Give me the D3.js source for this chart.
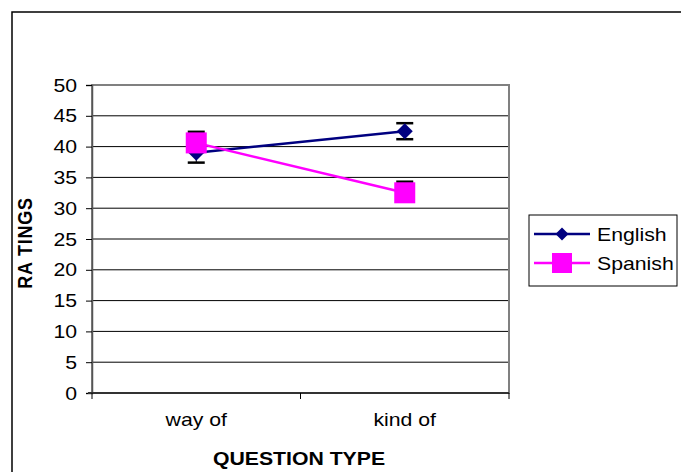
<!DOCTYPE html>
<html><head><meta charset="utf-8">
<script src="https://cdn.jsdelivr.net/npm/d3@7"></script>
<style>body{margin:0;background:#fff}svg{display:block;font-family:"Liberation Sans",Arial,sans-serif}</style>
</head><body>
<script>
const categories = ["way of", "kind of"];
const english = [39.0, 42.5];
const englishErrUp = [1.6, 1.3];
const englishErrDown = [1.6, 1.3];
const spanish = [40.6, 32.5];
const spanishErrUp = [1.8, 1.8];
const spanishErrDown = [0, 0];
const yTicks = [0,5,10,15,20,25,30,35,40,45,50];

const W = 681, H = 472, SX = 1.18, FS = 18;
const svg = d3.select("body").append("svg").attr("width", W).attr("height", H);

function txt(g, x0, y0, s, anchor, opts = {}) {
  const t = g.append("text")
    .attr("transform", `translate(${x0},${y0}) scale(${SX},1)`)
    .attr("text-anchor", anchor).attr("font-size", opts.size || FS)
    .attr("fill", "#000").text(s);
  if (opts.bold) t.attr("font-weight", "bold");
  return t;
}

// outer frame
svg.append("rect").attr("x", 12).attr("y", 12).attr("width", W).attr("height", H)
  .attr("fill", "none").attr("stroke", "#000").attr("stroke-width", 1.5);

const L = 92, R = 509, T = 85, B = 393;
const y = d3.scaleLinear().domain([0, 50]).range([B, T]);
const x = d3.scaleBand().domain(categories).range([L, R]);
const cx = c => x(c) + x.bandwidth() / 2;

// gridlines
svg.append("g").selectAll("line").data(yTicks.filter(d => d > 0 && d < 50)).join("line")
  .attr("x1", L).attr("x2", R).attr("y1", d => y(d)).attr("y2", d => y(d))
  .attr("stroke", "#000").attr("stroke-width", 1);

// plot area border
svg.append("rect").attr("x", L).attr("y", T).attr("width", R - L).attr("height", B - T)
  .attr("fill", "none").attr("stroke", "#808080").attr("stroke-width", 2);

// y axis
const ya = svg.append("g").attr("transform", `translate(${L},0)`)
  .call(d3.axisLeft(y).tickValues(yTicks).tickSize(6).tickFormat(""));
ya.select(".domain").attr("stroke", "#555").attr("stroke-width", 1.5);
ya.selectAll(".tick line").attr("stroke", "#000");
const yl = svg.append("g");
yTicks.forEach(v => txt(yl, 77, y(v) + 6.5, String(v), "end"));

// x axis
const xa = svg.append("g").attr("transform", `translate(0,${B})`);
xa.append("line").attr("x1", L - 4).attr("x2", R).attr("y1", 0).attr("y2", 0).attr("stroke", "#333").attr("stroke-width", 2);
const xTickPos = [L, ...categories.map(c => x(c) + x.bandwidth())];
xa.selectAll("line.t").data(xTickPos).join("line").attr("class", "t")
  .attr("x1", d => d).attr("x2", d => d).attr("y1", 0).attr("y2", 6).attr("stroke", "#000");
categories.forEach(c => txt(xa, cx(c), 33, c, "middle"));

// axis titles
txt(svg, 299, 465, "QUESTION TYPE", "middle", {bold: true});
svg.append("text").attr("transform", "translate(32,243) rotate(-90) scale(1,1.1)").attr("text-anchor", "middle")
  .attr("font-size", FS).attr("font-weight", "bold").attr("letter-spacing", 0.8).text("RA TINGS");

const line = d3.line().x((d, i) => cx(categories[i])).y(d => y(d));

const series = [
  {name: "English", vals: english, up: englishErrUp, down: englishErrDown, color: "#000080", shape: "diamond"},
  {name: "Spanish", vals: spanish, up: spanishErrUp, down: spanishErrDown, color: "#ff00ff", shape: "square"}
];

function marker(g, shape, color, px, py, small) {
  if (shape === "diamond") {
    const h = small ? 6.5 : 8;
    g.append("path").attr("d", `M${px},${py-h}L${px+h},${py}L${px},${py+h}L${px-h},${py}Z`).attr("fill", color);
  } else {
    const h = small ? 10 : 10.5;
    g.append("rect").attr("x", px - h).attr("y", py - h).attr("width", 2 * h).attr("height", 2 * h).attr("fill", color);
  }
}

// error bars
series.forEach(s => {
  const g = svg.append("g");
  s.vals.forEach((v, i) => {
    const px = cx(categories[i]);
    const ends = [];
    if (s.up[i] > 0) ends.push(y(v + s.up[i]));
    if (s.down[i] > 0) ends.push(y(v - s.down[i]));
    ends.forEach(yy => {
      g.append("line").attr("x1", px).attr("x2", px).attr("y1", y(v)).attr("y2", yy).attr("stroke", "#000").attr("stroke-width", 1);
      g.append("line").attr("x1", px - 8.5).attr("x2", px + 8.5).attr("y1", yy).attr("y2", yy)
        .attr("stroke", "#000").attr("stroke-width", 2.5);
    });
  });
});

// lines & markers
series.forEach(s => {
  svg.append("path").datum(s.vals).attr("d", line).attr("fill", "none").attr("stroke", s.color).attr("stroke-width", 2.5);
});
series.forEach(s => {
  const g = svg.append("g");
  s.vals.forEach((v, i) => marker(g, s.shape, s.color, cx(categories[i]), y(v)));
});

// legend
const lg = svg.append("g");
lg.append("rect").attr("x", 529).attr("y", 215).attr("width", 148).attr("height", 71)
  .attr("fill", "#fff").attr("stroke", "#000").attr("stroke-width", 1);
series.forEach((s, i) => {
  const ly = 234 + i * 29;
  lg.append("line").attr("x1", 534).attr("x2", 590).attr("y1", ly).attr("y2", ly).attr("stroke", s.color).attr("stroke-width", 2.5);
  marker(lg, s.shape, s.color, 562, ly, true);
  txt(lg, 597, ly + 6.5, s.name, "start");
});
</script>
</body></html>
